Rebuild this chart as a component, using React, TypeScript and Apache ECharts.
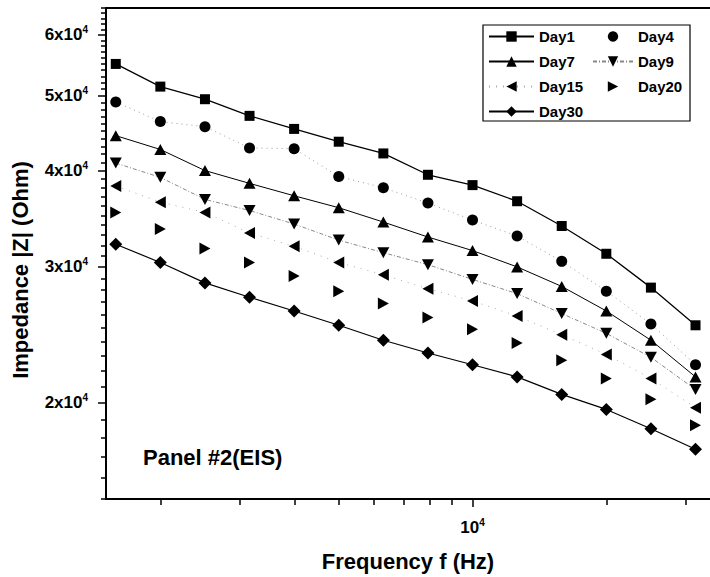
import React, { useEffect, useRef } from "react";
import * as echarts from "echarts";

// Frequencies (Hz) of the measured points
const FREQ_HZ = [1585, 1995, 2512, 3162, 3981, 5012, 6310, 7943, 10000, 12589, 15849, 19953, 25119, 31623];

// Impedance |Z| (Ohm) per series
const DAY1 = [55000, 51400, 49500, 47100, 45300, 43600, 42100, 39500, 38300, 36500, 33900, 31200, 28200, 25200];
const DAY4 = [49100, 46300, 45600, 42800, 42700, 39300, 38000, 36300, 34500, 32900, 30500, 27900, 25300, 22400];
const DAY7 = [44400, 42600, 40000, 38500, 37100, 35800, 34300, 32800, 31500, 30000, 28300, 26300, 24100, 21600];
const DAY9 = [40900, 39200, 36700, 35500, 34100, 32500, 31300, 30200, 28900, 27700, 26100, 24600, 22900, 20800];
const DAY15 = [38200, 36400, 35300, 33200, 31900, 30400, 29300, 28100, 27100, 25900, 24500, 23100, 21500, 19700];
const DAY20 = [35300, 33600, 31700, 30400, 29200, 27900, 26900, 25800, 24900, 23900, 22700, 21500, 20200, 18700];
const DAY30 = [32100, 30400, 28600, 27400, 26300, 25200, 24100, 23200, 22400, 21600, 20500, 19600, 18500, 17400];

// Axis ranges and ticks
const X_MIN_HZ = 1507;
const X_MAX_HZ = 34080;
const Y_MIN_OHM = 15000;
const Y_MAX_OHM = 65000;
const X_MAJOR_TICKS = [10000];
const X_MINOR_TICKS = [2000, 3000, 4000, 5000, 6000, 7000, 8000, 9000, 20000, 30000];
const Y_MAJOR_TICKS = [20000, 30000, 40000, 50000, 60000];
const Y_MINOR_TICKS = [
  15000, 16000, 17000, 18000, 19000, 21000, 22000, 23000, 24000, 25000, 26000, 27000, 28000, 29000,
  31000, 32000, 33000, 34000, 35000, 36000, 37000, 38000, 39000, 41000, 42000, 43000, 44000, 45000,
  46000, 47000, 48000, 49000, 51000, 52000, 53000, 54000, 55000, 56000, 57000, 58000, 59000, 61000,
  62000, 63000, 64000, 65000,
];

const L = Math.log10;
const FONT = "'Liberation Sans', Arial, Helvetica, sans-serif";

export default function App() {
  const ref = useRef<HTMLDivElement>(null);

  useEffect(() => {
    if (!ref.current) return;
    const chart = echarts.init(ref.current, undefined, { renderer: "svg" });
    const pts = (vals: number[]) => FREQ_HZ.map((f, i) => [L(f), L(vals[i])]);

    const xRange = { min: L(X_MIN_HZ), max: L(X_MAX_HZ) };
    const yRange = { min: L(Y_MIN_OHM), max: L(Y_MAX_OHM) };
    const black = "#000";
    const rich = {
      b: { fontFamily: FONT, fontWeight: "bold", fontSize: 17, color: black, lineHeight: 20 },
      s: { fontFamily: FONT, fontWeight: "bold", fontSize: 10, color: black, lineHeight: 10, verticalAlign: "top" },
    };

    const mk = (name: string, data: number[], symbol: string, size: any, rotate: number, lineStyle: any) => ({
      type: "line",
      name,
      data: pts(data),
      xAxisIndex: 0,
      yAxisIndex: 0,
      symbol,
      symbolSize: size,
      symbolRotate: rotate,
      showSymbol: true,
      itemStyle: { color: black },
      lineStyle,
      z: 3,
    });

    const legendText = { fontFamily: FONT, fontWeight: "bold", fontSize: 15, color: black, lineHeight: 25 };

    chart.setOption({
      animation: false,
      backgroundColor: "#fff",
      grid: { left: 106, top: 8, right: 0, bottom: 78 },
      xAxis: [
        {
          type: "value",
          position: "bottom",
          ...xRange,
          axisLine: { show: true, lineStyle: { color: black, width: 2 } },
          axisTick: { show: true, customValues: X_MAJOR_TICKS.map(L), length: 8, lineStyle: { color: black, width: 1.5 } },
          axisLabel: {
            show: true,
            customValues: X_MAJOR_TICKS.map(L),
            margin: 18,
            formatter: () => "{b|10}{s|4}",
            rich,
          },
          splitLine: { show: false },
          name: "Frequency f (Hz)",
          nameLocation: "middle",
          nameGap: 51,
          nameTextStyle: { fontFamily: FONT, fontWeight: "bold", fontSize: 22, color: black },
        },
        {
          type: "value",
          position: "top",
          ...xRange,
          axisLine: { show: true, lineStyle: { color: black, width: 2 } },
          axisTick: { show: false },
          axisLabel: { show: false },
          splitLine: { show: false },
        },
        {
          type: "value",
          position: "bottom",
          ...xRange,
          axisLine: { show: false },
          axisTick: { show: true, customValues: X_MINOR_TICKS.map(L), length: 6, lineStyle: { color: black, width: 1.5 } },
          axisLabel: { show: false },
          splitLine: { show: false },
        },
      ],
      yAxis: [
        {
          type: "value",
          position: "left",
          ...yRange,
          axisLine: { show: true, lineStyle: { color: black, width: 2 } },
          axisTick: { show: true, customValues: Y_MAJOR_TICKS.map(L), length: 8, lineStyle: { color: black, width: 1.5 } },
          axisLabel: {
            show: true,
            customValues: Y_MAJOR_TICKS.map(L),
            margin: 18,
            formatter: (v: number) => `{b|${Math.round(Math.pow(10, v) / 10000)}x10}{s|4}`,
            rich,
          },
          splitLine: { show: false },
          name: "Impedance |Z| (Ohm)",
          nameLocation: "middle",
          nameGap: 75,
          nameTextStyle: { fontFamily: FONT, fontWeight: "bold", fontSize: 22, color: black, padding: [0, 33, 0, 0] },
        },
        {
          type: "value",
          position: "left",
          ...yRange,
          axisLine: { show: false },
          axisTick: { show: true, customValues: Y_MINOR_TICKS.map(L), length: 5, lineStyle: { color: black, width: 1.5 } },
          axisLabel: { show: false },
          splitLine: { show: false },
        },
      ],
      legend: [
        {
          orient: "vertical",
          left: 483,
          top: 19,
          itemWidth: 45,
          itemHeight: 13,
          itemGap: 0,
          textStyle: legendText,
          data: ["Day1", "Day7", "Day15", "Day30"],
        },
        {
          orient: "vertical",
          left: 587,
          top: 19,
          itemWidth: 40,
          itemHeight: 13,
          itemGap: 0,
          textStyle: legendText,
          data: [{ name: "Day4", lineStyle: { opacity: 0 } }, "Day9", "Day20"],
        },
      ],
      graphic: [
        {
          type: "rect",
          shape: { x: 483, y: 25, width: 207, height: 96 },
          style: { fill: "none", stroke: black, lineWidth: 1.2 },
          z: 10,
        },
        {
          type: "text",
          left: 143,
          top: 446,
          style: { text: "Panel #2(EIS)", fontFamily: FONT, fontWeight: "bold", fontSize: 22, fill: black },
        },
      ],
      series: [
        mk("Day1", DAY1, "rect", 10, 0, { color: black, width: 1.3, type: "solid" }),
        mk("Day4", DAY4, "circle", 11, 0, { color: "#999", width: 1, type: [1, 4] }),
        mk("Day7", DAY7, "triangle", [12, 11], 0, { color: black, width: 1, type: "solid" }),
        mk("Day9", DAY9, "triangle", [12, 11], 180, { color: "#888", width: 1, type: [4, 2, 1, 2] }),
        mk("Day15", DAY15, "triangle", [12, 11], 90, { color: "#aaa", width: 1, type: [1, 6] }),
        mk("Day20", DAY20, "triangle", [12, 11], -90, { color: "#999", width: 1, opacity: 0 }),
        mk("Day30", DAY30, "diamond", 13, 0, { color: black, width: 1.2, type: "solid" }),
      ],
    });

    return () => chart.dispose();
  }, []);

  return (
    <div
      ref={ref}
      style={{ position: "absolute", left: 0, top: 0, width: 710, height: 577, background: "#fff" }}
    />
  );
}
